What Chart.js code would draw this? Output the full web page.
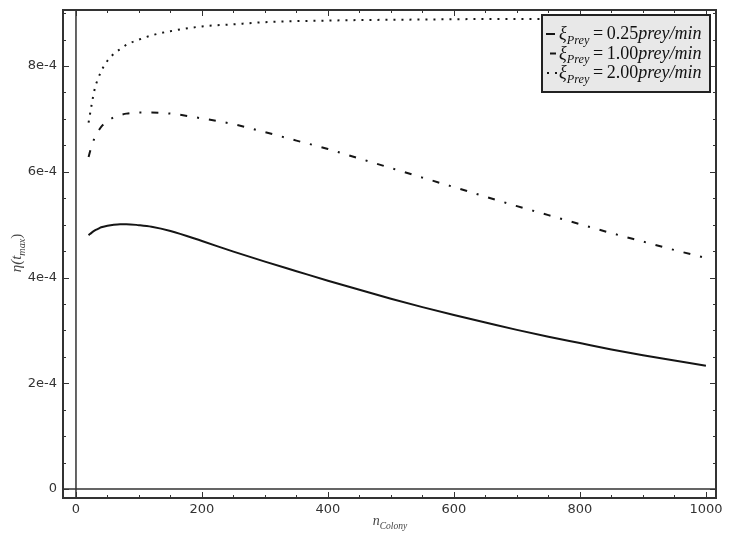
<!DOCTYPE html>
<html>
<head>
<meta charset="utf-8">
<script src="https://cdn.jsdelivr.net/npm/chart.js@4.4.1/dist/chart.umd.min.js"></script>
<style>
  body { margin: 0; background: #fff; }
  canvas { display: block; }
</style>
</head>
<body>
<canvas id="myChart" width="729" height="542"></canvas>
<script>
// colony size
const nColony = [20, 25, 30, 35, 40, 50, 60, 70, 80, 100, 120, 150, 200, 250, 300, 350, 400,
                 450, 500, 550, 600, 650, 700, 750, 800, 850, 900, 950, 1000];
// eta(t_max) for xi_Prey = 0.25
const eta025 = [4.80e-4, 4.85e-4, 4.89e-4, 4.92e-4, 4.95e-4, 4.98e-4, 5.00e-4, 5.01e-4, 5.01e-4,
                4.99e-4, 4.96e-4, 4.88e-4, 4.69e-4, 4.49e-4, 4.30e-4, 4.12e-4, 3.94e-4, 3.77e-4,
                3.60e-4, 3.44e-4, 3.29e-4, 3.15e-4, 3.01e-4, 2.88e-4, 2.76e-4, 2.64e-4, 2.53e-4,
                2.43e-4, 2.33e-4];
// xi_Prey = 1.00
const eta100 = [6.28e-4, 6.50e-4, 6.65e-4, 6.76e-4, 6.85e-4, 6.96e-4, 7.03e-4, 7.07e-4, 7.10e-4,
                7.12e-4, 7.12e-4, 7.10e-4, 7.01e-4, 6.90e-4, 6.75e-4, 6.59e-4, 6.43e-4, 6.25e-4,
                6.07e-4, 5.89e-4, 5.71e-4, 5.53e-4, 5.35e-4, 5.18e-4, 5.01e-4, 4.84e-4, 4.68e-4,
                4.52e-4, 4.37e-4];
// xi_Prey = 2.00
const eta200 = [6.93e-4, 7.28e-4, 7.58e-4, 7.76e-4, 7.90e-4, 8.10e-4, 8.23e-4, 8.32e-4, 8.40e-4,
                8.50e-4, 8.58e-4, 8.66e-4, 8.75e-4, 8.79e-4, 8.83e-4, 8.85e-4, 8.86e-4, 8.87e-4,
                8.875e-4, 8.88e-4, 8.885e-4, 8.89e-4, 8.89e-4, 8.89e-4, 8.895e-4, 8.895e-4, 8.90e-4,
                8.90e-4, 8.90e-4];

const xTicks = [0, 200, 400, 600, 800, 1000];
const yTicks = [0, 2e-4, 4e-4, 6e-4, 8e-4];
const yTickLabels = ['0', '2e-4', '4e-4', '6e-4', '8e-4'];
const xiLabels = ['0.25', '1.00', '2.00'];

const lineColor = '#151515';
const axisColor = '#333';
const mathFont = '"Liberation Serif", "DejaVu Serif", serif';

function pts(ys) {
    return nColony.map((n, i) => ({ x: n, y: ys[i] }));
}

function runFont(it, sub, size) {
    return (it ? 'italic ' : '') + (sub ? size * 0.68 : size) + 'px ' + mathFont;
}

function runsWidth(ctx, runs, size) {
    let w = 0;
    for (const [t, it, sub] of runs) {
        ctx.font = runFont(it, sub, size);
        w += ctx.measureText(t).width;
    }
    return w;
}

// draws text runs: [text, italic, subscript]
function drawRuns(ctx, runs, x, y, size) {
    for (const [t, it, sub] of runs) {
        ctx.font = runFont(it, sub, size);
        ctx.fillText(t, x, sub ? y + size * 0.25 : y);
        x += ctx.measureText(t).width;
    }
    return x;
}

const framePlugin = {
    id: 'frame',
    afterDatasetsDraw(chart) {
        const { ctx, chartArea: a, scales: { x, y } } = chart;
        ctx.save();
        ctx.strokeStyle = axisColor;
        // zero lines
        ctx.lineWidth = 1.5;
        const x0 = x.getPixelForValue(0);
        const y0 = y.getPixelForValue(0);
        ctx.beginPath();
        ctx.moveTo(x0, a.top); ctx.lineTo(x0, a.bottom);
        ctx.moveTo(a.left, y0); ctx.lineTo(a.right, y0);
        ctx.stroke();
        // inward ticks
        ctx.lineWidth = 1;
        ctx.beginPath();
        for (let v = 0; v <= 1000; v += 50) {
            const px = Math.round(x.getPixelForValue(v)) + 0.5;
            const len = v % 200 === 0 ? 6 : 3;
            ctx.moveTo(px, a.bottom); ctx.lineTo(px, a.bottom - len);
            ctx.moveTo(px, a.top); ctx.lineTo(px, a.top + len);
        }
        for (let k = 0; k <= 18; k++) {
            const v = k * 0.5e-4;
            if (v > y.max) break;
            const py = Math.round(y.getPixelForValue(v)) + 0.5;
            const len = k % 4 === 0 ? 6 : 3;
            ctx.moveTo(a.left, py); ctx.lineTo(a.left + len, py);
            ctx.moveTo(a.right, py); ctx.lineTo(a.right - len, py);
        }
        ctx.stroke();
        ctx.lineWidth = 2;
        ctx.strokeRect(a.left, a.top, a.right - a.left, a.bottom - a.top);
        ctx.restore();
    },
    afterDraw(chart) {
        const { ctx } = chart;
        ctx.save();
        // axis titles
        ctx.fillStyle = '#444';
        ctx.textBaseline = 'alphabetic';
        const xRuns = [['n', true, false], ['Colony', true, true]];
        let w = runsWidth(ctx, xRuns, 14);
        drawRuns(ctx, xRuns, 390 - w / 2, 525, 14);

        const yRuns = [['η(', true, false], ['t', true, false], ['max', true, true], [')', false, false]];
        w = runsWidth(ctx, yRuns, 15);
        ctx.translate(21, 253);
        ctx.rotate(-Math.PI / 2);
        drawRuns(ctx, yRuns, -w / 2, 0, 15);
        ctx.restore();

        // legend box
        ctx.save();
        const bx = 542, by = 15, bw = 168, bh = 77;
        ctx.fillStyle = '#e8e8e8';
        ctx.fillRect(bx, by, bw, bh);
        ctx.strokeStyle = '#222';
        ctx.lineWidth = 2;
        ctx.strokeRect(bx, by, bw, bh);
        chart.data.datasets.forEach((ds, i) => {
            const ry = by + 24 + i * 19.5;
            ctx.strokeStyle = ds.borderColor;
            ctx.lineWidth = ds.borderWidth;
            ctx.beginPath();
            if (i === 0) {
                ctx.moveTo(546, ry - 5); ctx.lineTo(555, ry - 5);
            } else if (i === 1) {
                ctx.moveTo(550, ry - 5); ctx.lineTo(556, ry - 5);
            } else {
                ctx.setLineDash([2, 6]);
                ctx.moveTo(547, ry - 5); ctx.lineTo(557, ry - 5);
            }
            ctx.stroke();
            ctx.setLineDash([]);
            ctx.fillStyle = '#111';
            drawRuns(ctx, [['ξ', true, false], ['Prey', true, true], ['\u2009=\u2009', false, false],
                           [xiLabels[i], false, false], ['prey/min', true, false]], 559, ry, 18);
        });
        ctx.restore();
    }
};

const ctx = document.getElementById('myChart').getContext('2d');
const myChart = new Chart(ctx, {
    type: 'scatter',
    data: {
        datasets: [
            {
                label: 'xi = ' + xiLabels[0],
                data: pts(eta025),
                borderColor: lineColor,
                borderWidth: 2,
                showLine: true,
                pointRadius: 0,
                cubicInterpolationMode: 'monotone'
            },
            {
                label: 'xi = ' + xiLabels[1],
                data: pts(eta100),
                borderColor: lineColor,
                borderWidth: 2,
                borderDash: [7, 10, 2, 10],
                showLine: true,
                pointRadius: 0,
                cubicInterpolationMode: 'monotone'
            },
            {
                label: 'xi = ' + xiLabels[2],
                data: pts(eta200),
                borderColor: lineColor,
                borderWidth: 2,
                borderDash: [2, 6],
                showLine: true,
                pointRadius: 0,
                cubicInterpolationMode: 'monotone'
            }
        ]
    },
    options: {
        responsive: false,
        animation: false,
        layout: { padding: { top: 10, right: 13, left: 0, bottom: 0 } },
        plugins: { legend: { display: false }, tooltip: { enabled: false } },
        scales: {
            x: {
                type: 'linear',
                min: -20.6,
                max: 1016,
                grid: { display: false, drawTicks: false },
                border: { display: false },
                afterBuildTicks: s => { s.ticks = xTicks.map(v => ({ value: v })); },
                afterFit: s => { s.height = 44; },
                ticks: {
                    padding: 4,
                    maxRotation: 0,
                    color: axisColor,
                    font: { family: '"DejaVu Sans"', size: 13 },
                    callback: v => String(v)
                }
            },
            y: {
                type: 'linear',
                min: -1.7e-5,
                max: 9.06e-4,
                grid: { display: false, drawTicks: false },
                border: { display: false },
                afterBuildTicks: s => { s.ticks = yTicks.map(v => ({ value: v })); },
                afterFit: s => { s.width = 63; s.paddingTop = 0; s.paddingBottom = 0; },
                ticks: {
                    padding: 6,
                    color: axisColor,
                    font: { family: '"DejaVu Sans"', size: 13 },
                    callback: v => yTickLabels[yTicks.indexOf(v)]
                }
            }
        }
    },
    plugins: [framePlugin]
});
</script>
</body>
</html>
